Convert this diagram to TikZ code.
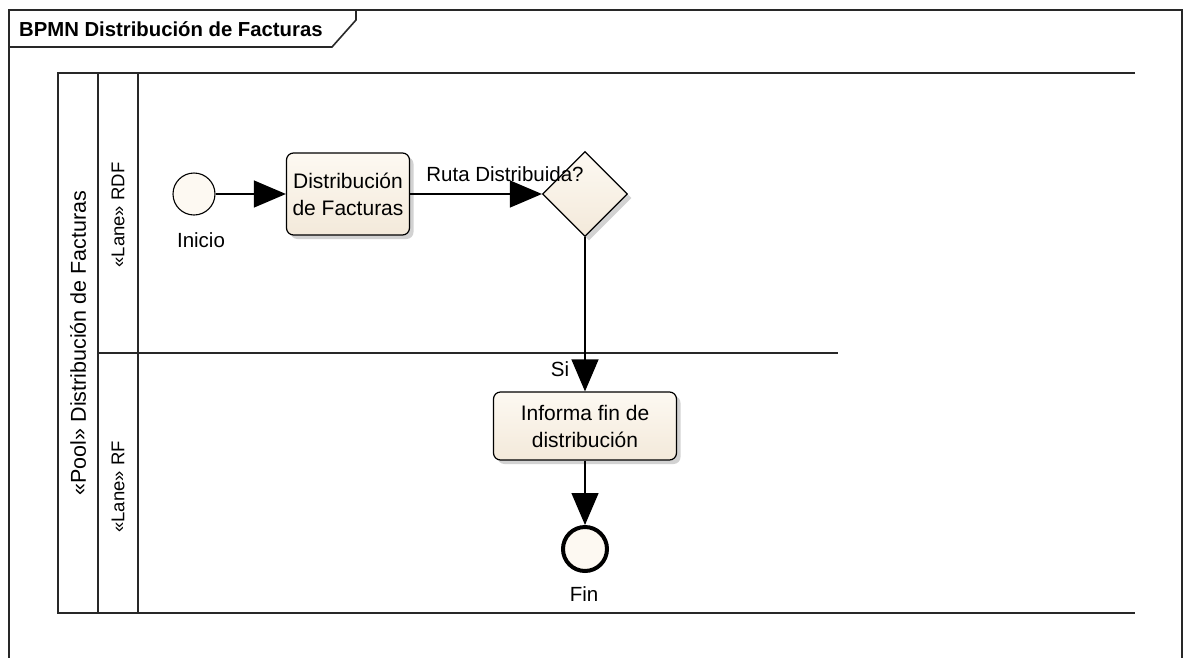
\documentclass[tikz,border=0pt]{standalone}
\usepackage{fontspec}
\setmainfont{Liberation Sans}
\usetikzlibrary{arrows.meta,shapes.geometric,shadows}

\definecolor{bpmnfill}{RGB}{243,233,218}
\definecolor{bpmnfilllight}{RGB}{253,249,242}
\definecolor{linegray}{RGB}{40,40,40}

\tikzset{
  frameline/.style={draw=linegray, line width=1.6pt},
  poolline/.style={draw=linegray, line width=2pt},
  flow/.style={draw=black, line width=1.3pt, -{Triangle[length=32pt,width=27pt]}},
  taskbox/.style={draw=black, line width=1.2pt, rounded corners=7pt,
    top color=bpmnfilllight, bottom color=bpmnfill,
    drop shadow={shadow xshift=4pt, shadow yshift=-4pt, opacity=0.35, fill=gray},
    align=center, font=\fontsize{21}{27}\selectfont, inner sep=0pt},
  gatewayshape/.style={diamond, draw=black, line width=1.2pt,
    top color=bpmnfilllight, bottom color=bpmnfill,
    drop shadow={shadow xshift=4pt, shadow yshift=-4pt, opacity=0.35, fill=gray},
    minimum width=85pt, minimum height=85pt, inner sep=0pt},
  startevent/.style={circle, draw=black, line width=1.1pt, fill=bpmnfilllight,
    minimum size=42pt, inner sep=0pt},
  endevent/.style={circle, draw=black, line width=4pt, fill=bpmnfilllight,
    minimum size=44pt, inner sep=0pt},
  lbl/.style={font=\fontsize{20.5}{24}\selectfont, inner sep=1pt},
  headerlbl/.style={rotate=90, inner sep=0pt}
}

\begin{document}
\begin{tikzpicture}[x=1pt, y=-1pt]
  \useasboundingbox (0,0) rectangle (1189,657);
  \fill[white] (0,0) rectangle (1189,657);

  % diagram frame with its name tab
  \draw[frameline] (9,665) -- (9,10) -- (1182,10) -- (1182,665);
  \draw[frameline] (9,47) -- (332,47) -- (356,20) -- (356,10);
  \node[anchor=west, font=\bfseries\fontsize{20.3}{22}\selectfont, inner sep=0pt]
    (title) at (19,29) {BPMN Distribución de Facturas};

  % pool and lanes
  \draw[poolline] (1135,73) -- (58,73) -- (58,613) -- (1135,613);
  \draw[poolline] (98,73) -- (98,613);
  \draw[poolline] (138,73) -- (138,613);
  \draw[poolline] (98,353) -- (838,353);
  \node[headerlbl, font=\fontsize{21.5}{24}\selectfont] (pool) at (78,343)
    {«Pool» Distribución de Facturas};
  \node[headerlbl, font=\fontsize{18.5}{22}\selectfont] (laneRDF) at (118,215) {«Lane» RDF};
  \node[headerlbl, font=\fontsize{18.5}{22}\selectfont] (laneRF) at (118,487) {«Lane» RF};

  % flow elements
  \node[startevent] (inicio) at (194,194) {};
  \node[lbl] (inicioLbl) at (201,240) {Inicio};
  \node[taskbox, minimum width=123pt, minimum height=82pt] (distrib) at (348,194)
    {Distribución\\de Facturas};
  \node[gatewayshape] (ruta) at (585,194) {};
  \node[lbl, anchor=south] (rutaLbl) at (505,183) {Ruta Distribuida?};
  \node[taskbox, minimum width=183pt, minimum height=68pt] (informa) at (585,426)
    {Informa fin de\\distribución};
  \node[endevent] (fin) at (585,549) {};
  \node[lbl] (finLbl) at (584,594) {Fin};
  \node[lbl] (siLbl) at (560,369) {Si};

  % sequence flows
  \draw[flow] (inicio.east) -- (distrib.west);
  \draw[flow] (distrib.east) -- (ruta.west);
  \draw[flow] (ruta.south) -- (informa.north);
  \draw[flow] (informa.south) -- (fin.north);
\end{tikzpicture}
\end{document}
